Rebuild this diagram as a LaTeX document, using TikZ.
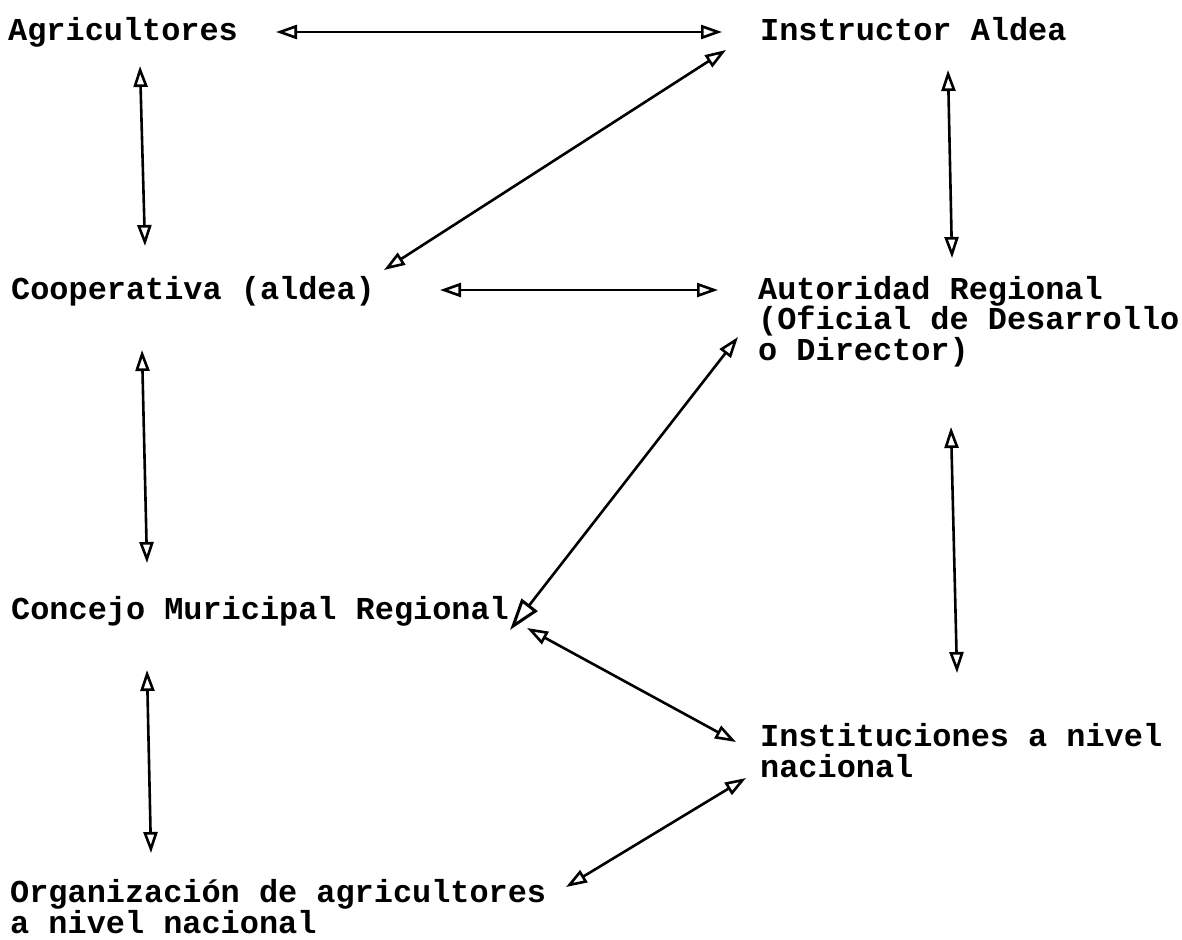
\documentclass[tikz,border=0pt]{standalone}
\usepackage{fontspec}
\setmonofont{Liberation Mono}
\usetikzlibrary{arrows.meta}
\begin{document}
\begin{tikzpicture}[x=1pt,y=-1pt,
  lbl/.style={anchor=base west, inner sep=0pt, align=left,
    font=\ttfamily\bfseries\fontsize{31.9}{30.5}\selectfont},
  link/.style={line width=2.6pt, line cap=round,
    {Triangle[open,length=21pt,width=14pt,line width=2.6pt]}-{Triangle[open,length=21pt,width=14pt,line width=2.6pt]}},
  biglink/.style={line width=2.6pt, line cap=round,
    {Triangle[open,length=21pt,width=14pt,line width=2.6pt]}-{Triangle[open,length=32pt,width=20pt,line width=3pt]}}]
\useasboundingbox (0,0) rectangle (1182,939);
\fill[white] (0,0) rectangle (1182,939);

% nodes (multi-line nodes are placed by the baseline of their last line)
\node[lbl] (agri) at (8,41) {Agricultores};
\node[lbl] (instr) at (760,41) {Instructor Aldea};
\node[lbl] (coop) at (11,299) {Cooperativa (aldea)};
\node[lbl] (auto) at (758,360) {Autoridad Regional\\(Oficial de Desarrollo\\o Director)};
\node[lbl] (conc) at (11,619) {Concejo Muricipal Regional};
\node[lbl] (inst) at (760,777) {Instituciones a nivel\\nacional};
\node[lbl] (org) at (10,933) {Organización de agricultores\\a nivel nacional};

% connector end points
\coordinate (a1) at (276,32);  \coordinate (a2) at (722,32);
\coordinate (b1) at (140,66);  \coordinate (b2) at (145,246);
\coordinate (c1) at (726,50);  \coordinate (c2) at (384,270);
\coordinate (d1) at (948,70);  \coordinate (d2) at (952,258);
\coordinate (e1) at (440,290); \coordinate (e2) at (718,290);
\coordinate (f1) at (142,350); \coordinate (f2) at (147,563);
\coordinate (g1) at (738,337); \coordinate (g2) at (510,630);
\coordinate (h1) at (951,427); \coordinate (h2) at (957,673);
\coordinate (i1) at (527,628); \coordinate (i2) at (736,742);
\coordinate (j1) at (147,670); \coordinate (j2) at (151,853);
\coordinate (k1) at (746,778); \coordinate (k2) at (566,887);

% connectors
\draw[link] (a1) -- (a2); % agri <-> instr
\draw[link] (b1) -- (b2); % agri <-> coop
\draw[link] (c1) -- (c2); % instr <-> coop
\draw[link] (d1) -- (d2); % instr <-> auto
\draw[link] (e1) -- (e2); % coop <-> auto
\draw[link] (f1) -- (f2); % coop <-> conc
\draw[biglink] (g1) -- (g2); % auto <-> conc
\draw[link] (h1) -- (h2); % auto <-> inst
\draw[link] (i1) -- (i2); % conc <-> inst
\draw[link] (j1) -- (j2); % conc <-> org
\draw[link] (k1) -- (k2); % inst <-> org
\end{tikzpicture}
\end{document}
